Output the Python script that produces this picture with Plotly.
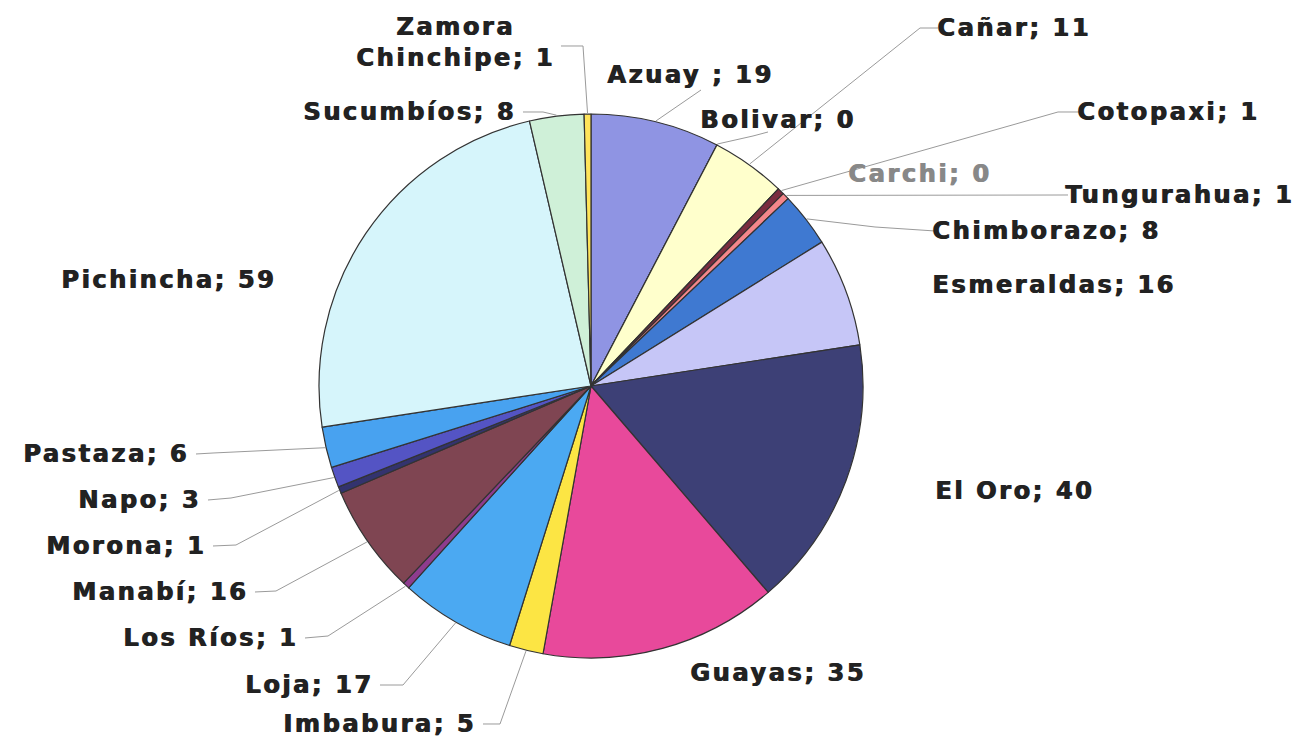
import math
import plotly.graph_objects as go

# ---- data ----
provinces = ["Azuay", "Bolivar", "Cañar", "Carchi", "Cotopaxi", "Tungurahua",
             "Chimborazo", "Esmeraldas", "El Oro", "Guayas", "Imbabura", "Loja",
             "Los Ríos", "Manabí", "Morona", "Napo", "Pastaza", "Pichincha",
             "Sucumbíos", "Zamora Chinchipe"]
counts = [19, 0, 11, 0, 1, 1, 8, 16, 40, 35, 5, 17, 1, 16, 1, 3, 6, 59, 8, 1]
label_texts = ["Azuay ; 19", "Bolivar; 0", "Cañar; 11", "Carchi; 0", "Cotopaxi; 1",
               "Tungurahua; 1", "Chimborazo; 8", "Esmeraldas; 16", "El Oro; 40",
               "Guayas; 35", "Imbabura; 5", "Loja; 17", "Los Ríos; 1", "Manabí; 16",
               "Morona; 1", "Napo; 3", "Pastaza; 6", "Pichincha; 59", "Sucumbíos; 8",
               "Zamora<br>Chinchipe; 1"]

# ---- styles ----
colors = ["#8F94E3", "#9999FF", "#FFFFCC", "#CCFFFF", "#7B2C3F", "#F4868A",
          "#3F79D1", "#C6C6F7", "#3D4076", "#E8499B", "#FCE544", "#4BA9F2",
          "#8E3C8E", "#7F4552", "#33336E", "#5454C4", "#48A2F0", "#D6F5FB",
          "#CFF0D8", "#FFE45A"]

W, H = 1307, 736
CX, CY, R = 583, 378, 272

# label layout (pixel anchor, xanchor) -- layout only
label_pos = [(597, 67, "left"), (690, 112, "left"), (927, 20, "left"), (838, 166, "left"),
             (1067, 104, "left"), (1055, 187, "left"), (922, 223, "left"), (922, 277, "left"),
             (925, 483, "left"), (680, 665, "left"), (470, 716, "right"), (367, 677, "right"),
             (292, 630, "right"), (242, 584, "right"), (200, 538, "right"), (195, 492, "right"),
             (183, 446, "right"), (270, 272, "right"), (510, 104, "right"), (447, 34, "center")]
# leader start / elbow (pixels) or None
leaders = [((693, 82), None), ((760, 124), (745, 128)), ((930, 20), (912, 20)), None,
           ((1072, 104), (1050, 104)), ((1060, 187), None), ((927, 223), (867, 219)), None,
           None, None, ((475, 716), (492, 716)), ((372, 677), (395, 677)),
           ((297, 630), (320, 628)), ((247, 584), (268, 583)), ((205, 538), (228, 537)),
           ((200, 492), (223, 490)), ((188, 446), (205, 445)), None,
           ((515, 104), (535, 104)), ((553, 38), (575, 38))]

fig = go.Figure()
fig.add_trace(go.Pie(
    labels=provinces, values=counts, sort=False, direction="clockwise", rotation=0,
    marker=dict(colors=colors, line=dict(color="#333333", width=1.2)),
    textinfo="none", hoverinfo="label+value", showlegend=False,
    domain=dict(x=[(CX - R) / W, (CX + R) / W], y=[1 - (CY + R) / H, 1 - (CY - R) / H]),
))

def px2paper(x, y):
    return x / W, 1 - y / H

total = sum(counts)
cum = 0
annotations = []
shapes = []
for i, (name, v) in enumerate(zip(provinces, counts)):
    mid = (cum + v / 2) / total * 2 * math.pi
    cum += v
    ex, ey = CX + (R + 1) * math.sin(mid), CY - (R + 1) * math.cos(mid)
    lx, ly, anc = label_pos[i]
    px, py = px2paper(lx, ly)
    col = "#888888" if name == "Carchi" else "#222222"
    annotations.append(dict(
        x=px, y=py, xref="paper", yref="paper", xanchor=anc, yanchor="middle",
        text='<span style="letter-spacing:2.6px">' + label_texts[i] + "</span>",
        showarrow=False, align="center",
        font=dict(family="DejaVu Sans", size=24, color=col, weight="bold",
                  shadow="1px 0px 0px " + col)))
    if leaders[i] is not None:
        start, elbow = leaders[i]
        pts = [start] + ([elbow] if elbow else []) + [(ex, ey)]
        path = "M " + " L ".join("%f,%f" % px2paper(x, y) for x, y in pts)
        shapes.append(dict(type="path", path=path, xref="paper", yref="paper",
                           line=dict(color="#9a9a9a", width=1)))

fig.update_layout(width=W, height=H, margin=dict(l=0, r=0, t=0, b=0),
                  paper_bgcolor="white", plot_bgcolor="white",
                  annotations=annotations, shapes=shapes)
fig.write_html("out.html")
